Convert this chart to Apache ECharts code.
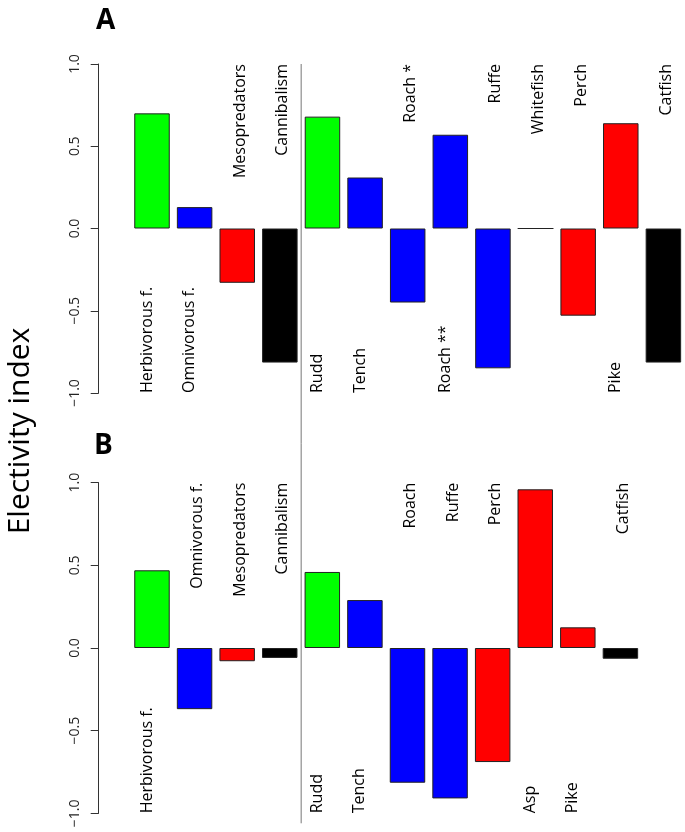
<!DOCTYPE html>
<html>
<head>
<meta charset="utf-8">
<script src="https://cdn.jsdelivr.net/npm/echarts@6/dist/echarts.min.js"></script>
<style>
html,body{margin:0;padding:0;background:#fff;}
#c{width:685px;height:832px;}
</style>
</head>
<body>
<div id="c"></div>
<script>
// ---- Data ----
var catsA = ['Herbivorous f.', 'Omnivorous f.', 'Mesopredators', 'Cannibalism', 'Rudd', 'Tench', 'Roach *', 'Roach **', 'Ruffe', 'Whitefish', 'Perch', 'Pike', 'Catfish'];
var valsA = [0.70, 0.13, -0.33, -0.815, 0.68, 0.31, -0.45, 0.57, -0.85, 0.0, -0.53, 0.64, -0.815];
var groupA = ['herb', 'omni', 'meso', 'cann', 'herb', 'omni', 'omni', 'omni', 'omni', 'omni', 'meso', 'meso', 'cann'];

var catsB = ['Herbivorous f.', 'Omnivorous f.', 'Mesopredators', 'Cannibalism', 'Rudd', 'Tench', 'Roach', 'Ruffe', 'Perch', 'Asp', 'Pike', 'Catfish'];
var valsB = [0.47, -0.37, -0.08, -0.06, 0.46, 0.29, -0.815, -0.91, -0.69, 0.96, 0.125, -0.065];
var groupB = ['herb', 'omni', 'meso', 'cann', 'herb', 'omni', 'omni', 'omni', 'meso', 'meso', 'meso', 'cann'];

var yTicks = [-1.0, -0.5, 0.0, 0.5, 1.0];
var panelLetters = ['A', 'B'];
var yTitle = 'Electivity index';

// ---- Styles ----
var groupColor = { herb: '#00ff00', omni: '#0000ff', meso: '#ff0000', cann: '#000000' };
var FONT = "'Open Sans', 'DejaVu Sans', sans-serif";

function barData(vals, groups) {
  return vals.map(function (v, i) {
    return { value: v, itemStyle: { color: groupColor[groups[i]] } };
  });
}
function labelData(cats, vals) {
  return cats.map(function (c, i) {
    var bottom = vals[i] > 0;
    return {
      value: [i, bottom ? yTicks[0] : yTicks[yTicks.length - 1]],
      label: {
        formatter: c,
        align: bottom ? 'left' : 'right',
        offset: bottom ? [0, -5] : [0, 3]
      }
    };
  });
}

var gridA = { left: 130.7, top: 64, width: 554, height: 329 };
var gridB = { left: 130.7, top: 482.7, width: 511, height: 330.6 };

function yAxisCfg(idx) {
  return {
    type: 'value', gridIndex: idx, min: -1, max: 1, interval: 0.5,
    offset: 32,
    axisLine: { show: true, lineStyle: { color: '#333', width: 1 } },
    axisTick: { show: true, length: 8, lineStyle: { color: '#333' } },
    splitLine: { show: false },
    axisLabel: {
      rotate: 90, margin: 17, color: '#222', fontSize: 14, fontFamily: FONT,
      align: 'center', verticalAlign: 'bottom',
      formatter: function (v) { return v.toFixed(1).replace('-', '\u2212'); }
    }
  };
}
function xAxisCfg(idx, cats) {
  return {
    type: 'category', gridIndex: idx, data: cats,
    axisLine: { show: false }, axisTick: { show: false }, axisLabel: { show: false },
    splitLine: { show: false }
  };
}
function labelSeries(idx, cats, vals) {
  return {
    type: 'scatter', xAxisIndex: idx, yAxisIndex: idx,
    symbolSize: 0.1, itemStyle: { color: '#ffffff', opacity: 1 },
    silent: true,
    label: {
      show: true, position: 'inside', rotate: 90, verticalAlign: 'middle',
      fontSize: 16, fontFamily: FONT, color: '#000', opacity: 1
    },
    data: labelData(cats, vals)
  };
}
function barSeries(idx, vals, groups) {
  return {
    type: 'bar', xAxisIndex: idx, yAxisIndex: idx,
    barCategoryGap: '16.7%',
    itemStyle: { borderColor: '#222', borderWidth: 1 },
    data: barData(vals, groups)
  };
}

var chart = echarts.init(document.getElementById('c'), null, { renderer: 'canvas' });
chart.setOption({
  animation: false,
  backgroundColor: '#fff',
  grid: [gridA, gridB],
  xAxis: [xAxisCfg(0, catsA), xAxisCfg(1, catsB)],
  yAxis: [yAxisCfg(0), yAxisCfg(1)],
  series: [
    barSeries(0, valsA, groupA), labelSeries(0, catsA, valsA),
    barSeries(1, valsB, groupB), labelSeries(1, catsB, valsB)
  ]
});

// separator line between group bars and species bars, positioned via axis scales
var xA0 = chart.convertToPixel({ xAxisIndex: 0 }, 3);
var xA1 = chart.convertToPixel({ xAxisIndex: 0 }, 4);
var sepX = (xA0 + xA1) / 2;
var topY = chart.convertToPixel({ yAxisIndex: 0 }, 1);
var botY = chart.convertToPixel({ yAxisIndex: 1 }, -1) + 10;

chart.setOption({
  graphic: [
    { type: 'line', shape: { x1: sepX, y1: topY, x2: sepX, y2: botY }, style: { stroke: '#777', lineWidth: 1 }, silent: true },
    { type: 'text', x: 96, y: 7, style: { text: panelLetters[0], font: 'bold 28px ' + FONT, fill: '#000' } },
    { type: 'text', x: 94, y: 432, style: { text: panelLetters[1], font: 'bold 28px ' + FONT, fill: '#000' } },
    { type: 'text', x: 20, y: 431, rotation: Math.PI / 2, style: { text: yTitle, font: '30px ' + FONT, fill: '#000', align: 'center', verticalAlign: 'middle' } }
  ]
});
</script>
</body>
</html>
